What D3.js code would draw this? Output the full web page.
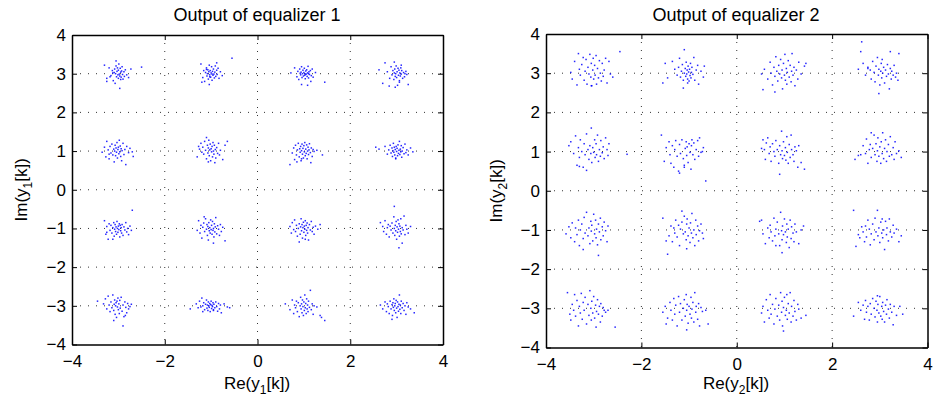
<!DOCTYPE html>
<html>
<head>
<meta charset="utf-8">
<script src="https://cdn.jsdelivr.net/npm/d3@7"></script>
<style>
  body { margin: 0; background: #fff; }
  text { font-family: "Liberation Sans", Arial, sans-serif; fill: #000; }
</style>
</head>
<body>
<div id="chart"></div>
<script>
// 16-QAM symbol grid (row major, top row first)
var symbolsRe = [-3, -1, 1, 3]
var symbolsIm = [3, 1, -1, -3]
var xTicks = [-4, -2, 0, 2, 4]
var yTicks = [-4, -3, -2, -1, 0, 1, 2, 3, 4]

// offsets from the ideal symbol, in hundredths, "dx dy" pairs
var eq1Offsets = [
  "-30 22,-25 -12,-20 15,-16 -5,-13 8,-11 -18,-9 3,-8 12,-7 -25,-6 0,-5 20,-4 -8,-3 6,-2 15,-1 -3,0 -12,0 9,1 25,2 -1,3 -6,4 14,5 -15,5 4,6 -9,7 7,8 18,9 -2,10 -14,12 5,13 -7,15 10,18 -3,22 -10,27 12,50 17,-5 33,-25 -20,-12 2,3 -38,-18 -8",
  "-22 25,-18 -10,-16 8,-14 -20,-12 3,-10 15,-9 -6,-8 0,-7 10,-6 -14,-5 5,-4 22,-3 -3,-2 8,-1 -9,0 2,1 18,2 -17,3 6,4 -4,5 12,6 -1,7 -11,8 4,9 20,10 -7,12 9,13 -2,15 14,17 -12,20 5,24 -5,45 40,-20 -22,-4 -28,12 28,-10 11,2 -1,-3 -8",
  "-28 2,-20 15,-15 -8,-13 6,-11 -15,-9 12,-7 -3,-6 4,-5 18,-4 -10,-3 0,-2 9,-1 -6,0 3,1 14,2 -4,3 -13,4 7,5 -1,6 10,7 -7,8 2,9 19,10 -11,11 5,12 -2,14 8,16 -5,18 12,20 -9,25 3,45 -22,-5 -28,8 -30,15 -20,3 -1,-8 1,10 0",
  "-38 10,-30 -25,-25 28,-20 5,-15 -12,-12 18,-10 -3,-8 8,-6 -15,-5 2,-4 12,-3 -7,-2 0,-1 20,0 -10,1 5,2 -30,3 14,4 -4,5 9,6 -18,7 2,8 -6,9 15,10 -1,11 8,13 -12,15 3,17 -8,20 6,22 -2,25 -28,-5 30,-3 -35,10 22,-16 -32,6 -22,18 0",
  "-35 -3,-30 10,-27 -15,-25 25,-22 3,-20 -20,-18 12,-16 -5,-14 18,-12 -10,-10 5,-9 -28,-8 0,-7 15,-6 -12,-5 8,-4 -3,-3 22,-2 -18,-1 4,0 10,1 -7,2 28,3 -2,4 13,5 -14,6 6,7 -25,8 1,10 20,12 -9,14 4,16 -35,18 12,22 -4,25 7,30 -2,32 -14,-20 -8",
  "-30 -15,-27 12,-25 5,-22 20,-20 -3,-18 10,-16 -8,-14 25,-12 2,-10 -20,-8 15,-7 -5,-6 8,-5 28,-4 -12,-3 3,-2 18,-1 -25,0 6,1 -2,2 12,3 -15,4 22,5 0,6 -8,7 15,8 -30,9 4,10 -18,12 9,14 -6,16 20,18 -10,20 2,25 -22,30 15,35 25,-10 35,-6 -28",
  "-25 -5,-22 8,-20 -22,-18 15,-16 -10,-14 3,-12 20,-10 -15,-9 6,-8 -3,-7 12,-6 -25,-5 1,-4 18,-3 -8,-2 7,-1 -18,0 14,1 -2,2 22,3 -12,4 5,5 -6,6 16,7 -20,8 0,9 10,10 -9,11 3,12 19,14 -4,16 8,18 -14,20 4,22 -1,28 2,40 -10,-30 -35,-15 -28,-5 -20,15 -30",
  "-45 10,-38 5,-25 12,-20 -8,-17 3,-14 15,-12 -5,-10 8,-9 -14,-8 1,-7 20,-6 -3,-5 10,-4 -10,-3 4,-2 -20,-1 12,0 -1,1 7,2 -12,3 16,4 -6,5 2,6 25,7 -9,8 5,9 -2,10 14,11 -16,12 0,14 9,16 -7,18 18,20 -4,22 3,25 -10,30 8,35 -2,-2 -18",
  "-30 20,-27 -15,-25 5,-22 -28,-20 12,-18 -5,-16 8,-14 -12,-12 2,-10 15,-9 -20,-8 -2,-7 10,-6 -8,-5 4,-4 -15,-3 18,-2 0,-1 -10,0 6,1 -3,2 12,3 -22,4 8,5 -6,6 2,7 -12,8 10,10 -18,12 4,14 -4,16 15,18 -9,20 0,22 -16,25 6,28 -5,30 47,-12 -28,-25 -10",
  "-30 -5,-27 20,-24 -12,-22 8,-20 -25,-18 3,-16 14,-14 -8,-12 25,-10 -2,-9 10,-8 -18,-7 5,-6 -30,-5 15,-4 -6,-3 2,-2 -12,-1 22,0 -3,1 8,2 -15,3 18,4 -5,5 0,6 -22,7 12,8 -9,9 4,10 28,12 -14,14 7,16 -2,18 -18,20 10,22 -8,25 3,30 -32,-15 30,5 -38",
  "-30 5,-27 -12,-25 15,-22 -3,-20 22,-18 -8,-16 8,-14 -20,-12 0,-10 12,-8 -15,-7 4,-6 25,-5 -6,-4 10,-3 -25,-2 2,-1 16,0 -10,1 6,2 -2,3 20,4 -18,5 8,6 -5,7 14,8 -12,9 2,10 -30,12 10,14 -4,16 18,18 -8,20 3,22 -15,25 6,30 -2,35 10,-10 -35,3 -28",
  "-35 15,-30 5,-28 -8,-25 20,-22 -15,-20 2,-18 10,-16 -22,-14 6,-12 -4,-10 14,-8 -12,-6 30,-5 0,-4 -18,-3 8,-2 -6,-1 18,0 -28,1 4,2 -10,3 22,4 -2,5 12,6 -20,7 6,8 -8,9 25,10 -14,12 2,14 -4,16 32,18 -16,20 8,22 -2,25 -12,30 5,-5 57,5 -50,12 -38",
  "-45 12,-32 5,-28 18,-25 -8,-22 25,-20 2,-18 -15,-16 10,-14 -5,-12 28,-10 -12,-9 4,-8 15,-7 -22,-6 0,-5 8,-4 -30,-3 12,-2 -3,-1 20,0 -10,1 5,2 -20,3 14,4 -6,6 22,8 -14,10 2,12 -28,14 10,16 -4,18 -18,20 6,22 -8,25 -2,28 4,-10 -38,10 -52,15 -25",
  "-45 -8,-32 5,-28 -5,-25 12,-22 -3,-20 20,-18 0,-16 8,-14 -10,-12 4,-10 15,-9 -6,-8 2,-7 -12,-6 10,-5 0,-4 -4,-3 6,-2 -15,-1 3,0 12,1 -7,2 1,3 -2,4 8,5 -12,6 4,8 -5,10 10,12 -2,14 -14,16 6,18 -8,20 2,22 -18,28 5,35 -3,40 -5,-18 -15,5 -10",
  "-40 5,-30 -10,-25 15,-22 -20,-20 2,-18 -5,-16 12,-14 -15,-12 8,-10 -28,-8 0,-7 22,-6 -8,-5 5,-4 -18,-3 15,-2 -2,-1 -25,0 10,1 -12,2 28,3 -5,4 6,5 -20,6 18,7 -8,8 2,9 -15,10 12,12 -4,14 40,16 -10,18 5,20 -22,22 0,28 -3,35 -25,45 -38,38 -30",
  "-35 2,-30 -8,-25 10,-22 -15,-20 5,-18 -2,-16 -20,-14 12,-12 -8,-10 3,-9 -25,-8 8,-7 -4,-6 18,-5 -12,-4 0,-3 6,-2 -18,-1 14,0 -6,1 -30,2 10,3 -2,4 -14,5 4,6 28,7 -9,8 2,9 -20,10 12,12 -5,14 6,16 -12,18 0,20 -22,22 8,25 -3,30 -8,38 -18,-10 -35"
]

var eq2Offsets = [
  "-48 2,-45 -15,-40 30,-35 -30,-32 50,-30 10,-28 -5,-25 22,-22 40,-20 -18,-18 5,-16 35,-14 -28,-12 15,-10 -2,-8 48,-6 -10,-5 25,-4 -32,-2 8,-1 38,0 -15,2 20,3 -5,5 45,6 -28,8 12,10 -12,12 32,14 0,16 -20,18 25,20 -8,22 8,25 38,28 -25,32 30,35 -2,40 -10,55 55,-5 -32",
  "-55 -25,-50 25,-45 -12,-35 30,-30 10,-25 -5,-22 15,-20 38,-18 -10,-16 5,-14 22,-12 -18,-10 0,-8 12,-7 -8,-6 28,-5 -2,-4 8,-3 -15,-2 18,-1 3,0 -20,1 10,2 -6,3 25,4 -12,5 2,6 15,8 -3,10 40,12 -18,15 8,18 20,20 -28,25 5,30 -10,32 18,-10 60,-12 -38,-3 -25",
  "-48 -2,-42 10,-35 -15,-30 28,-28 0,-25 -30,-22 15,-20 -8,-18 42,-16 5,-14 -20,-12 20,-10 -2,-8 35,-6 -12,-5 8,-4 -40,-2 25,0 -5,1 48,2 -18,4 12,5 -28,6 2,8 32,10 -10,12 20,14 -22,15 5,16 50,18 -5,20 15,22 -32,25 8,28 -15,30 28,35 -2,42 18,45 25,-45 -42,-20 -48",
  "-45 10,-40 55,-35 25,-30 -5,-25 15,-20 8,-18 -15,-15 30,-12 2,-10 -22,-8 18,-5 40,-3 -5,-2 10,0 -30,2 5,3 25,4 -12,6 0,8 15,10 -25,12 8,14 -8,16 22,18 -2,20 -40,22 12,24 -15,25 5,28 -5,30 20,33 -10,35 0,38 -18,40 50,-2 -52,-38 80,22 55,5 35,-25 12",
  "-52 15,-48 25,-42 -5,-38 40,-35 -35,-32 10,-30 -15,-28 30,-25 0,-22 -40,-20 20,-18 -8,-15 45,-12 5,-10 -20,-8 15,-6 -5,-5 60,-4 -28,-2 10,0 -2,2 30,3 -15,5 20,6 -8,8 42,10 -25,12 5,14 -12,15 28,18 -3,20 12,22 -18,25 35,28 5,30 -10,32 20,70 -7,-15 -48,-30 -38",
  "-58 42,-52 -25,-48 10,-42 25,-40 -8,-38 -30,-35 15,-32 -40,-30 5,-28 28,-25 -12,-22 -50,-20 18,-18 -5,-15 30,-12 -18,-10 -35,-8 8,-6 25,-5 -10,-4 12,-2 -28,0 20,2 -2,4 -45,5 15,6 30,8 -8,10 22,12 -20,15 5,18 28,20 -12,22 35,25 -2,28 0,30 10,35 -75,-20 -55,-10 -40",
  "-48 8,-45 30,-42 5,-40 -20,-38 22,-35 35,-32 -5,-30 12,-28 -25,-25 20,-22 0,-20 -12,-18 28,-15 5,-12 -30,-10 15,-8 -8,-6 52,-5 2,-4 -18,-2 25,0 -10,2 10,3 -22,5 38,6 -2,8 -30,10 18,12 -15,14 42,15 5,18 -8,20 -25,22 12,25 2,28 -40,30 15,35 -28,42 -45,-10 -58",
  "-52 -20,-45 -10,-40 -8,-35 15,-30 -5,-28 32,-25 -30,-22 5,-20 18,-18 -15,-15 8,-12 42,-10 -8,-8 20,-6 -25,-5 2,-4 35,-2 -12,0 12,2 -30,3 25,5 -5,6 48,8 -18,10 8,12 30,14 -25,15 0,18 18,20 -12,22 38,25 -8,28 10,30 -20,32 25,35 -5,40 2,45 -15,-18 48",
  "-58 -10,-52 8,-48 -20,-45 18,-40 -30,-38 5,-35 -12,-32 25,-30 -40,-28 0,-25 15,-22 -22,-20 32,-18 -8,-15 45,-12 -15,-10 5,-8 -35,-6 22,-5 -3,-4 12,-2 -28,0 40,2 -10,4 25,5 -20,6 2,8 -38,10 15,12 -5,14 30,15 -25,18 8,20 -15,22 20,25 -2,28 -30,30 10,10 -65,-22 -50",
  "-55 30,-48 -28,-42 -15,-38 10,-35 -30,-32 5,-30 -8,-28 25,-25 -18,-22 12,-20 -40,-18 2,-15 20,-12 -10,-10 35,-8 -5,-6 -25,-5 15,-4 28,-2 -15,0 5,2 -32,3 18,5 -8,6 42,8 -20,10 0,12 -40,14 25,15 -12,18 10,20 -28,22 -2,25 15,28 -8,30 -22,-45 -62,-15 48,-5 -48",
  "-52 22,-48 25,-45 -10,-40 -35,-35 5,-32 -20,-30 12,-28 -5,-25 -28,-22 30,-20 -15,-18 2,-15 20,-12 -10,-10 -40,-8 45,-6 -2,-5 -25,-4 10,-2 -12,0 28,2 -5,4 -32,5 15,6 -18,8 2,10 -45,12 25,14 -22,15 8,18 -8,20 -30,22 15,25 -5,30 -35,35 0,40 10,-5 -58,-18 -40",
  "-55 50,-50 -42,-45 -12,-42 -20,-38 8,-35 -5,-32 -30,-30 10,-28 -18,-25 25,-22 2,-20 -38,-18 -10,-15 15,-12 -25,-10 30,-8 -5,-5 50,-4 -15,-2 5,0 -32,2 20,4 -8,5 28,6 -20,8 0,10 -50,12 22,14 -12,15 5,18 -28,20 28,22 -5,25 -18,28 12,30 -8,35 2,40 -30,45 -15",
  "-55 40,-50 -15,-48 -30,-45 10,-42 -5,-40 35,-38 -20,-35 20,-32 -45,-30 5,-28 -12,-26 38,-24 -28,-22 15,-20 -5,-18 28,-15 -40,-12 10,-10 -18,-8 45,-6 0,-5 -30,-4 18,-2 -12,0 30,2 -25,4 8,5 -48,6 -8,8 22,10 -15,12 5,14 -35,15 12,18 -20,20 2,22 -5,25 -10,45 -48,30 -5",
  "-55 -10,-50 5,-48 -40,-45 -25,-40 15,-38 -5,-35 -30,-32 25,-30 -15,-28 8,-25 -45,-22 30,-20 -10,-18 12,-15 -30,-12 0,-10 22,-8 -20,-6 35,-5 -5,-4 10,-2 -38,0 5,2 -15,4 28,5 -25,6 -2,8 15,10 -35,12 40,14 -10,15 5,18 -28,20 12,22 -45,25 2,28 -8,35 -5,40 -40,-5 -55",
  "-48 -12,-45 5,-42 -35,-38 22,-35 -5,-32 -25,-30 35,-28 -15,-25 10,-22 -40,-20 -2,-18 25,-15 -20,-12 8,-10 -30,-8 40,-6 -10,-5 18,-4 -45,-2 2,0 28,2 -18,4 -5,5 35,6 -28,8 12,10 -12,12 40,14 -35,15 5,18 -20,20 20,22 -8,25 -30,28 10,30 -2,35 -25,45 -18,-2 -58",
  "-55 -20,-45 15,-40 -5,-35 8,-32 -28,-30 20,-28 -10,-25 5,-22 -30,-20 12,-18 -15,-15 25,-12 0,-10 -22,-8 18,-6 -5,-5 -35,-4 10,-2 -12,0 30,2 -20,4 5,5 -28,6 15,8 -8,10 -35,12 8,14 -15,15 22,18 -2,20 -25,22 10,25 -10,28 -42,30 5,35 -18,42 5,48 -15,-5 32"
]

function toPoints(offsets) {
  var pts = []
  offsets.forEach((s, i) => {
    var re = symbolsRe[i % 4]
    var im = symbolsIm[Math.floor(i / 4)]
    s.split(",").forEach(p => {
      var v = p.trim().split(/\s+/).map(Number)
      pts.push({re: re + v[0] / 100, im: im + v[1] / 100})
    })
  })
  return pts
}

var svg = d3.select("#chart").append("svg")
            .attr("width", 936)
            .attr("height", 405)

var panels = [
  {title: "Output of equalizer 1", sub: "1", pts: toPoints(eq1Offsets), x0: 72, x1: 443, y0: 35, y1: 344.5, titleX: 257, labX: 257, ylabX: 27},
  {title: "Output of equalizer 2", sub: "2", pts: toPoints(eq2Offsets), x0: 546, x1: 927.5, y0: 34, y1: 347.5, titleX: 736, labX: 736, ylabX: 502}
]

panels.forEach(drawPanel)

function drawPanel(p) {
  var x = d3.scaleLinear().domain([-4, 4]).range([p.x0, p.x1])
  var y = d3.scaleLinear().domain([-4, 4]).range([p.y1, p.y0])
  var g = svg.append("g")

  // grid
  g.selectAll(".gx").data(xTicks.slice(1, -1)).enter().append("line")
    .attr("x1", d => x(d)).attr("x2", d => x(d))
    .attr("y1", p.y0).attr("y2", p.y1)
    .attr("stroke", "#333").attr("stroke-width", 1).attr("stroke-dasharray", "1,7")
  g.selectAll(".gy").data(yTicks.slice(1, -1)).enter().append("line")
    .attr("y1", d => y(d)).attr("y2", d => y(d))
    .attr("x1", p.x0).attr("x2", p.x1)
    .attr("stroke", "#333").attr("stroke-width", 1).attr("stroke-dasharray", "1,7")

  // points
  g.selectAll(".pt").data(p.pts).enter().append("rect")
    .attr("x", d => x(d.re) - 0.75)
    .attr("y", d => y(d.im) - 0.75)
    .attr("width", 1.5).attr("height", 1.5)
    .attr("fill", "#0000ff").attr("fill-opacity", 0.85)

  // axes: ticks inside, on all four sides
  var fmt = d => d < 0 ? "\u2212" + Math.abs(d) : d
  var bottom = g.append("g").attr("transform", "translate(0," + p.y1 + ")")
    .call(d3.axisBottom(x).tickValues(xTicks).tickSizeInner(-5).tickSizeOuter(0).tickPadding(10).tickFormat(fmt))
  var left = g.append("g").attr("transform", "translate(" + p.x0 + ",0)")
    .call(d3.axisLeft(y).tickValues(yTicks).tickSizeInner(-5).tickSizeOuter(0).tickPadding(6).tickFormat(fmt))
  var top = g.append("g").attr("transform", "translate(0," + p.y0 + ")")
    .call(d3.axisTop(x).tickValues(xTicks).tickSizeInner(-5).tickSizeOuter(0).tickFormat(""))
  var right = g.append("g").attr("transform", "translate(" + p.x1 + ",0)")
    .call(d3.axisRight(y).tickValues(yTicks).tickSizeInner(-5).tickSizeOuter(0).tickFormat(""))
  ;[bottom, left, top, right].forEach(a => {
    a.selectAll("path").attr("stroke", "#000").attr("stroke-width", 1.5)
    a.selectAll("line").attr("stroke", "#000")
    a.selectAll("text").attr("font-size", 17).attr("font-family", "Liberation Sans, Arial, sans-serif")
  })

  // title
  g.append("text").attr("x", p.titleX).attr("y", 21)
    .attr("text-anchor", "middle").attr("font-size", 18).text(p.title)

  // x label with subscript
  var xl = g.append("text").attr("x", p.labX).attr("y", 389)
    .attr("text-anchor", "middle").attr("font-size", 17)
  xl.append("tspan").text("Re(y")
  xl.append("tspan").attr("font-size", 12).attr("dy", 5).text(p.sub)
  xl.append("tspan").attr("dy", -5).text("[k])")

  var cy = (p.y0 + p.y1) / 2
  var yl = g.append("text").attr("transform", "translate(" + p.ylabX + "," + cy + ") rotate(-90)")
    .attr("text-anchor", "middle").attr("font-size", 17)
  yl.append("tspan").text("Im(y")
  yl.append("tspan").attr("font-size", 12).attr("dy", 5).text(p.sub)
  yl.append("tspan").attr("dy", -5).text("[k])")
}
</script>
</body>
</html>
